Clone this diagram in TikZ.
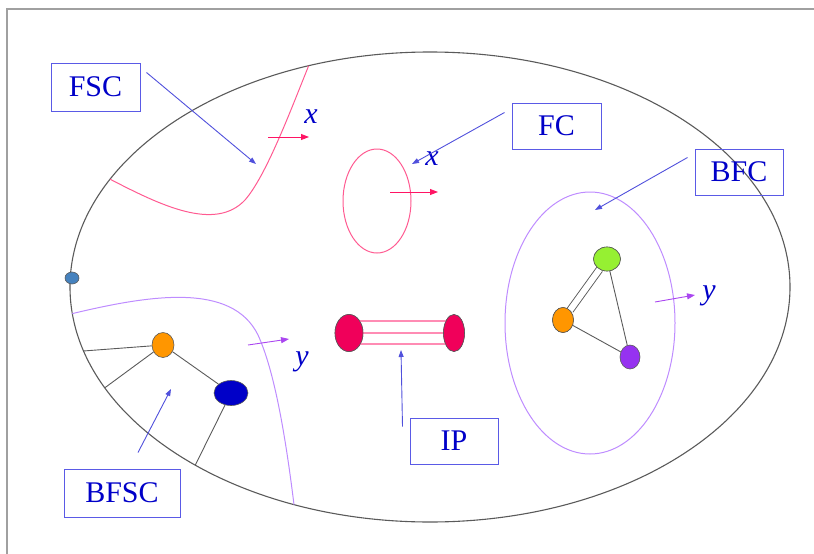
\documentclass[tikz,border=0pt]{standalone}
\usepackage{fontspec}
\setmainfont{Liberation Serif}
\usetikzlibrary{shapes.geometric,arrows.meta,calc}

\definecolor{frameg}{RGB}{160,160,160}
\definecolor{outlineg}{RGB}{90,90,90}
\definecolor{boxblue}{RGB}{90,90,230}
\definecolor{txtblue}{RGB}{0,0,200}
\definecolor{callblue}{RGB}{80,80,220}
\definecolor{pinkline}{RGB}{255,90,145}
\definecolor{pinkarrow}{RGB}{255,20,100}
\definecolor{crimson}{RGB}{240,0,90}
\definecolor{tubepink}{RGB}{255,140,180}
\definecolor{lilac}{RGB}{190,140,255}
\definecolor{violetarrow}{RGB}{170,70,240}
\definecolor{limegreen}{RGB}{150,240,50}
\definecolor{orangenode}{RGB}{255,150,0}
\definecolor{purplenode}{RGB}{150,50,240}
\definecolor{navynode}{RGB}{0,0,200}
\definecolor{steelnode}{RGB}{70,130,190}

\tikzset{
  tag/.style={draw=boxblue, line width=1pt, text=txtblue, font=\fontsize{30}{32}\selectfont,
              inner sep=0pt},
  callout/.style={draw=callblue, line width=0.9pt, -{Triangle[length=7pt,width=5pt]}},
  outline/.style={draw=outlineg, line width=1.1pt},
  flowx/.style={draw=pinkarrow, line width=0.9pt, -{Triangle[length=8pt,width=6pt]}},
  flowy/.style={draw=violetarrow, line width=0.9pt, -{Triangle[length=8pt,width=6pt]}},
  varlbl/.style={text=txtblue, font=\fontsize{30}{32}\selectfont\itshape, inner sep=0pt},
  vertex/.style={ellipse, draw=outlineg, line width=0.6pt, inner sep=0pt},
  edge/.style={draw=outlineg, line width=0.9pt},
}

\begin{document}
\begin{tikzpicture}[x=1pt,y=-1pt]
\useasboundingbox (0,0) rectangle (814,554);

% frame
\draw[frameg, line width=2pt] (7,554) -- (7,9) -- (814,9);

% the space
\coordinate (O) at (430,287);
\draw[outline] (O) ellipse [x radius=360, y radius=235];

% boundary points
\coordinate (bA) at ($(O)+(164.2:360 and 235)$);
\coordinate (bB) at ($(O)+(154.6:360 and 235)$);
\coordinate (bC) at ($(O)+(130.7:360 and 235)$);
\coordinate (fsA) at ($(O)+(207.3:360 and 235)$);
\coordinate (fsB) at ($(O)+(250.3:360 and 235)$);
\coordinate (bfA) at ($(O)+(173.5:360 and 235)$);
\coordinate (bfB) at ($(O)+(112.2:360 and 235)$);

% FSC curve
\draw[pinkline, line width=1pt] (fsA) .. controls (160,205) and (215,232) .. (245,200)
   .. controls (266,176) and (290,112) .. (fsB);
\coordinate (xa0) at (268,137);
\coordinate (xa1) at (309,137);
\draw[flowx] (xa0) -- (xa1);
\node[varlbl] (xlab1) at (311,117) {x};

% FC loop
\draw[pinkline, line width=1pt] (377,201) ellipse [x radius=34, y radius=52];
\coordinate (xb0) at (390,192);
\coordinate (xb1) at (438,192);
\draw[flowx] (xb0) -- (xb1);
\node[varlbl] (xlab2) at (432,159) {x};

% BFC loop
\draw[lilac, line width=1pt] (590,323) ellipse [x radius=85, y radius=131];
\coordinate (ya0) at (655,302);
\coordinate (ya1) at (695,295);
\draw[flowy] (ya0) -- (ya1);
\node[varlbl] (ylab1) at (709,296) {y};

\node[vertex, fill=limegreen, minimum width=27pt, minimum height=24pt] (g) at (607,259) {};
\node[vertex, fill=orangenode, minimum width=21pt, minimum height=25pt] (o2) at (563,320) {};
\node[vertex, fill=purplenode, minimum width=20pt, minimum height=24pt] (p) at (630,357) {};
\draw[edge, double=white, double distance=6pt] (o2) -- (g);
\draw[edge] (g) -- (p);
\draw[edge] (o2.center) -- (p);
\node[vertex, fill=limegreen, minimum width=27pt, minimum height=24pt] at (g) {};
\node[vertex, fill=orangenode, minimum width=21pt, minimum height=25pt] at (o2) {};

% BFSC curve
\draw[lilac, line width=1pt] (bfA) .. controls (150,295) and (232,282) .. (258,335)
   .. controls (275,372) and (286,440) .. (bfB);
\coordinate (yb0) at (248,345);
\coordinate (yb1) at (289,339);
\draw[flowy] (yb0) -- (yb1);
\node[varlbl] (ylab2) at (302,362) {y};

\node[vertex, fill=steelnode, minimum width=14pt, minimum height=12pt] (s) at (72,278) {};
\node[vertex, fill=orangenode, minimum width=22pt, minimum height=25pt] (o1) at (163,345) {};
\node[vertex, fill=navynode, minimum width=34pt, minimum height=25pt] (n) at (231,393) {};
\draw[edge] (o1) -- (bA);
\draw[edge] (o1) -- (bB);
\draw[edge] (o1) -- (n);
\draw[edge] (n) -- (bC);

% IP tube
\node[vertex, fill=crimson, minimum width=28pt, minimum height=37pt] (ipl) at (349,333) {};
\node[vertex, fill=crimson, minimum width=21pt, minimum height=37pt] (ipr) at (454,333) {};
\foreach \dy in {-12,0,11}
  \draw[tubepink, line width=1.2pt] ($(ipl.center)+(10,\dy)$) -- ($(ipr.center)+(-8,\dy)$);
\node[vertex, fill=crimson, minimum width=28pt, minimum height=37pt] at (ipl) {};
\node[vertex, fill=crimson, minimum width=21pt, minimum height=37pt] at (ipr) {};

% labels
\node[tag, minimum width=89pt, minimum height=48pt] (fsc) at (95.5,87) {FSC};
\node[tag, minimum width=89pt, minimum height=46pt] (fc) at (556.5,126) {FC};
\node[tag, minimum width=88pt, minimum height=46pt] (bfc) at (739,172) {BFC};
\node[tag, minimum width=116pt, minimum height=48pt] (bfsc) at (122,493) {BFSC};
\node[tag, minimum width=88pt, minimum height=46pt] (ip) at (454,441) {IP};

% callouts
\coordinate (fscT) at (256,164);
\coordinate (fcT) at (412,164);
\coordinate (bfcT) at (595,210);
\coordinate (bfscT) at (171,389);
\coordinate (ipT) at (401,350);
\draw[callout] ($(fsc.north east)+(6,10)$) -- (fscT);
\draw[callout] ($(fc.north west)+(-7,10)$) -- (fcT);
\draw[callout] ($(bfc.north west)+(-7,9)$) -- (bfcT);
\draw[callout] ($(bfsc.north)+(16,-16)$) -- (bfscT);
\draw[callout] ($(ip.north west)+(-7,9)$) -- (ipT);
\end{tikzpicture}
\end{document}
